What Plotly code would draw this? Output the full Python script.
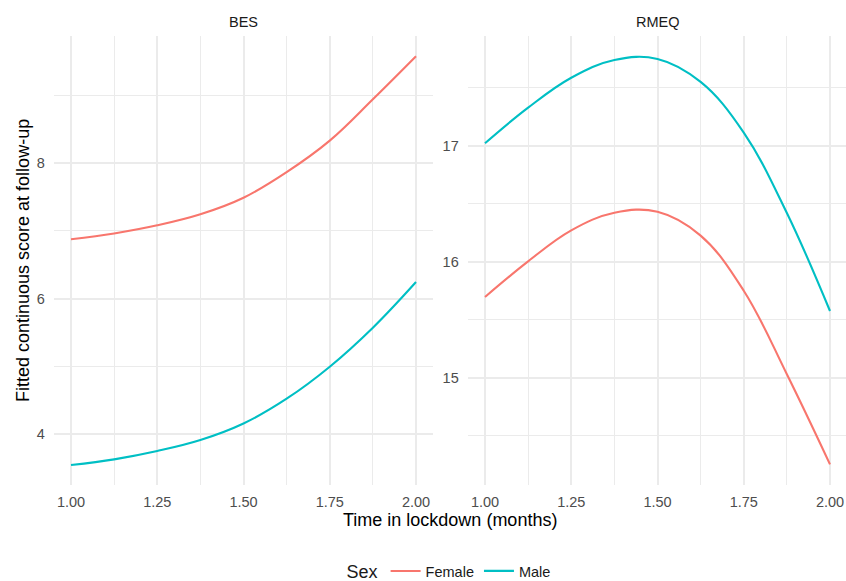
import plotly.graph_objects as go

# ---- data ----
time_months = [1.0, 1.125, 1.25, 1.375, 1.5, 1.625, 1.75, 1.875, 2.0]
bes_female = [6.874, 6.960, 7.080, 7.243, 7.487, 7.865, 8.330, 8.940, 9.575]
bes_male = [3.542, 3.626, 3.749, 3.911, 4.155, 4.521, 4.993, 5.569, 6.243]
rmeq_female = [15.696, 16.003, 16.270, 16.422, 16.430, 16.225, 15.750, 15.030, 14.253]
rmeq_male = [17.021, 17.328, 17.586, 17.739, 17.748, 17.550, 17.113, 16.420, 15.575]

x_ticks = [1.0, 1.25, 1.5, 1.75, 2.0]
x_minor = [1.125, 1.375, 1.625, 1.875]
bes_ticks = [4, 6, 8]
bes_minor = [5, 7, 9]
rmeq_ticks = [15, 16, 17]
rmeq_minor = [14.5, 15.5, 16.5, 17.5]

facets = ["BES", "RMEQ"]
sex_levels = ["Female", "Male"]
colors = {"Female": "#F8766D", "Male": "#00BFC4"}

W, H = 846, 581
FONT = "Liberation Sans, Arial, sans-serif"
GRID = "#EBEBEB"

fig = go.Figure()
series = [
    ("x", "y", "Female", bes_female, True),
    ("x", "y", "Male", bes_male, True),
    ("x2", "y2", "Female", rmeq_female, False),
    ("x2", "y2", "Male", rmeq_male, False),
]
for xa, ya, sex, vals, show in series:
    fig.add_trace(go.Scatter(
        x=time_months, y=vals, xaxis=xa, yaxis=ya, mode="lines",
        name=sex, legendgroup=sex, showlegend=show,
        line=dict(color=colors[sex], width=2.1, shape="spline", smoothing=1.1),
    ))

# panel pixel geometry
PPU = 345.0  # pixels per month
p1 = (53.75, 433.25)
p2 = (467.75, 846.0)
ytop, ybot = 36.0, 485.0
ydom = [(H - ybot) / H, (H - ytop) / H]


def xrange_for(p):
    one = p[0] + 17.25
    return [1.0 - 17.25 / PPU, 1.0 + (p[1] - one) / PPU]


axis_common = dict(
    showline=False, zeroline=False, ticks="", showgrid=True,
    gridcolor=GRID, gridwidth=2.0, automargin=False,
    tickfont=dict(family=FONT, size=14.5, color="#4D4D4D"),
)
xminor = dict(tickvals=x_minor, showgrid=True, gridcolor=GRID, gridwidth=1.1)

fig.update_layout(
    width=W, height=H,
    margin=dict(l=0, r=0, t=0, b=0, autoexpand=False),
    paper_bgcolor="white", plot_bgcolor="white",
    font=dict(family=FONT),
    xaxis=dict(domain=[p1[0] / W, p1[1] / W], range=xrange_for(p1),
               tickvals=x_ticks, tickformat=".2f", anchor="y", minor=xminor,
               ticklabelstandoff=6, **axis_common),
    xaxis2=dict(domain=[p2[0] / W, p2[1] / W], range=xrange_for(p2),
                tickvals=x_ticks, tickformat=".2f", anchor="y2", minor=xminor,
                ticklabelstandoff=6, **axis_common),
    yaxis=dict(domain=ydom, range=[3.2472, 9.8745], tickvals=bes_ticks, anchor="x",
               minor=dict(tickvals=bes_minor, showgrid=True, gridcolor=GRID, gridwidth=1.1),
               ticklabelstandoff=8, **axis_common),
    yaxis2=dict(domain=ydom, range=[14.075, 17.9457], tickvals=rmeq_ticks, anchor="x2",
                minor=dict(tickvals=rmeq_minor, showgrid=True, gridcolor=GRID, gridwidth=1.1),
                ticklabelstandoff=8, **axis_common),
    legend=dict(
        orientation="h", x=0.532, xanchor="center", y=(H - 572) / H, yanchor="middle",
        title=dict(text="Sex", side="left", font=dict(family=FONT, size=18, color="#1A1A1A")),
        font=dict(family=FONT, size=14.5, color="#1A1A1A"),
        itemwidth=30, bgcolor="rgba(0,0,0,0)",
    ),
    annotations=[
        dict(text=facets[0], x=(p1[0] + p1[1]) / 2 / W, y=(H - 21.7) / H, xref="paper", yref="paper",
             showarrow=False, xanchor="center", yanchor="middle",
             font=dict(family=FONT, size=14.5, color="#1A1A1A")),
        dict(text=facets[1], x=(p2[0] + 847.25) / 2 / W, y=(H - 21.7) / H, xref="paper", yref="paper",
             showarrow=False, xanchor="center", yanchor="middle",
             font=dict(family=FONT, size=14.5, color="#1A1A1A")),
        dict(text="Time in lockdown (months)", x=450 / W, y=(H - 520) / H, xref="paper", yref="paper",
             showarrow=False, xanchor="center", yanchor="middle",
             font=dict(family=FONT, size=18, color="#000000")),
        dict(text="Fitted continuous score at follow-up", x=22.5 / W, y=(H - 260.5) / H,
             xref="paper", yref="paper", textangle=-90,
             showarrow=False, xanchor="center", yanchor="middle",
             font=dict(family=FONT, size=18, color="#000000")),
    ],
)

fig.write_html(
    "out.html",
    config={"displayModeBar": False},
    post_script="document.body.style.margin='0';document.documentElement.style.overflow='hidden';",
)
